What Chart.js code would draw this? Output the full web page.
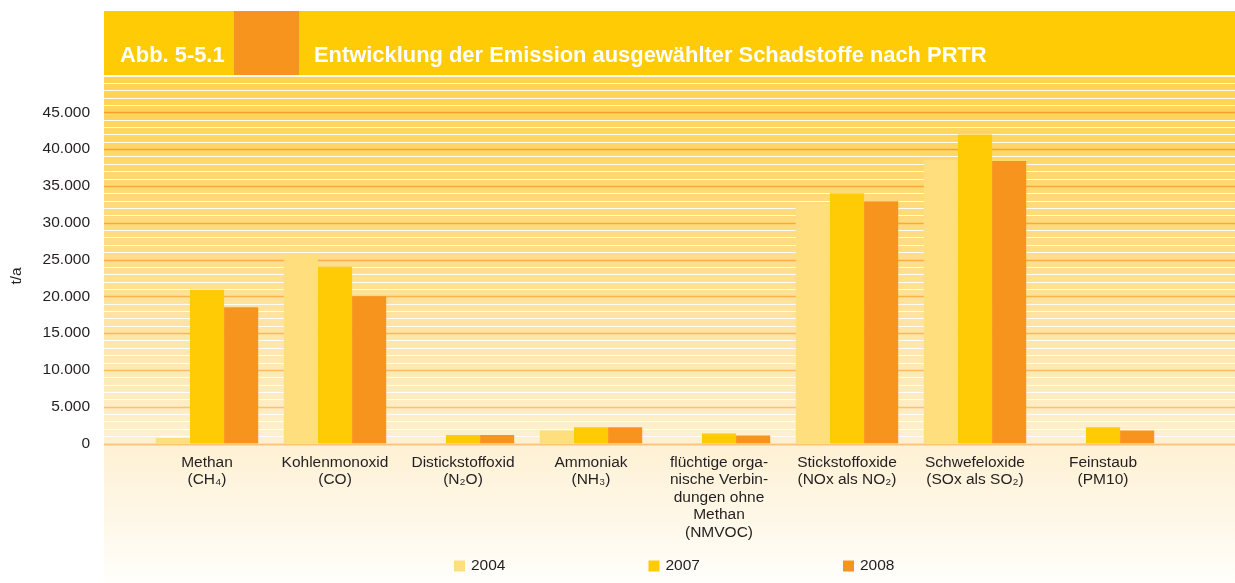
<!DOCTYPE html>
<html>
<head>
<meta charset="utf-8">
<script src="https://cdn.jsdelivr.net/npm/chart.js@4.4.0/dist/chart.umd.min.js"></script>
<style>
  body { margin: 0; background: #fff; }
</style>
</head>
<body>
<canvas id="emissionen" width="1235" height="583"></canvas>
<script>
const kategorien = [
    ['Methan', '(CH₄)'],
    ['Kohlenmonoxid', '(CO)'],
    ['Distickstoffoxid', '(N₂O)'],
    ['Ammoniak', '(NH₃)'],
    ['flüchtige orga-', 'nische Verbin-', 'dungen ohne', 'Methan', '(NMVOC)'],
    ['Stickstoffoxide', '(NOx als NO₂)'],
    ['Schwefeloxide', '(SOx als SO₂)'],
    ['Feinstaub', '(PM10)']
];
const jahre = ['2004', '2007', '2008'];
const werte2004 = [750, 25800, 0, 1750, 0, 32600, 38600, 0];
const werte2007 = [20900, 24000, 1150, 2200, 1350, 34000, 42000, 2200];
const werte2008 = [18500, 20000, 1150, 2200, 1100, 32900, 38400, 1750];
const yAchse = [0, 5000, 10000, 15000, 20000, 25000, 30000, 35000, 40000, 45000];

const farben = ['#FFDE7E', '#FFCB05', '#F7941E'];
const schrift = '"Liberation Sans", Arial, sans-serif';
const textFarbe = '#231F20';

function tausender(v) {
    return String(v).replace(/\B(?=(\d{3})+(?!\d))/g, '.');
}

// Kopfzeile, Flaeche, Streifen, Achsentitel
const hintergrund = {
    id: 'hintergrund',
    beforeDraw(chart) {
        const c = chart.ctx;
        const y = chart.scales.y;
        const L = 104, R = 1235;
        c.save();
        c.fillStyle = '#FFCB05';
        c.fillRect(L, 11, R - L, 64);
        c.fillStyle = '#F7941E';
        c.fillRect(234, 11, 65, 64);
        c.fillStyle = '#fff';
        c.font = 'bold 21.9px ' + schrift;
        c.textBaseline = 'alphabetic';
        c.fillText('Abb. 5-5.1', 120, 62);
        c.fillText('Entwicklung der Emission ausgewählter Schadstoffe nach PRTR', 314, 62);

        const g = c.createLinearGradient(0, 76, 0, 583);
        g.addColorStop(0, '#FFD250');
        g.addColorStop(0.35, '#FFDD88');
        g.addColorStop(0.72, '#FEF0D2');
        g.addColorStop(1, '#FFFEFB');
        c.fillStyle = g;
        c.fillRect(L, 76, R - L, 583 - 76);

        const oben = y.getPixelForValue(y.max), unten = y.getPixelForValue(0);
        for (let v = 1000; v <= y.max; v += 1000) {
            const p = Math.round(y.getPixelForValue(v)) + 0.5;
            if (v % 5000 === 0 && v < y.max) {
                const a = 0.85 - 0.4 * (p - oben) / (unten - oben);
                c.strokeStyle = 'rgba(247,148,30,' + a.toFixed(2) + ')';
                c.lineWidth = 1.5;
            } else {
                c.strokeStyle = 'rgba(255,255,255,0.9)';
                c.lineWidth = 1.2;
            }
            c.beginPath();
            c.moveTo(L, p);
            c.lineTo(R, p);
            c.stroke();
        }
        c.strokeStyle = '#FDC47A';
        c.lineWidth = 2;
        c.beginPath();
        c.moveTo(L, unten + 1);
        c.lineTo(R, unten + 1);
        c.stroke();

        c.translate(17, 276);
        c.rotate(-Math.PI / 2);
        c.fillStyle = textFarbe;
        c.font = '15.5px ' + schrift;
        c.textAlign = 'center';
        c.textBaseline = 'middle';
        c.fillText('t/a', 0, 0);
        c.restore();
    },
    afterDraw(chart) {
        const c = chart.ctx;
        c.save();
        c.font = '15.5px ' + schrift;
        c.textBaseline = 'middle';
        chart.data.datasets.forEach((ds, i) => {
            const x = 454 + i * 194.5;
            c.fillStyle = ds.backgroundColor;
            c.fillRect(x, 560.5, 11, 11);
            c.fillStyle = textFarbe;
            c.fillText(ds.label, x + 17, 566);
        });
        c.restore();
    }
};

new Chart(document.getElementById('emissionen'), {
    type: 'bar',
    data: {
        labels: kategorien,
        datasets: [
            { label: jahre[0], data: werte2004, backgroundColor: farben[0] },
            { label: jahre[1], data: werte2007, backgroundColor: farben[1] },
            { label: jahre[2], data: werte2008, backgroundColor: farben[2] }
        ]
    },
    options: {
        responsive: false,
        animation: false,
        devicePixelRatio: 1,
        categoryPercentage: 0.8,
        barPercentage: 1.0,
        layout: { padding: { top: 75.5, right: 68, left: 0, bottom: 0 } },
        plugins: {
            legend: { display: false },
            tooltip: { enabled: false }
        },
        scales: {
            x: {
                grid: { display: false, drawTicks: false },
                border: { display: false },
                ticks: {
                    color: textFarbe,
                    font: { family: schrift, size: 15.5, lineHeight: 1.13 },
                    padding: 10,
                    maxRotation: 0,
                    autoSkip: false
                },
                afterFit(s) { s.height = 139.5; }
            },
            y: {
                min: 0,
                max: 50000,
                grid: { display: false, drawTicks: false },
                border: { display: false },
                afterBuildTicks(s) {
                    s.ticks = yAchse.map(v => ({ value: v }));
                },
                ticks: {
                    color: textFarbe,
                    font: { family: schrift, size: 15.5 },
                    padding: 53,
                    callback: v => tausender(v)
                },
                afterFit(s) { s.width = 143; }
            }
        }
    },
    plugins: [hintergrund]
});
</script>
</body>
</html>
